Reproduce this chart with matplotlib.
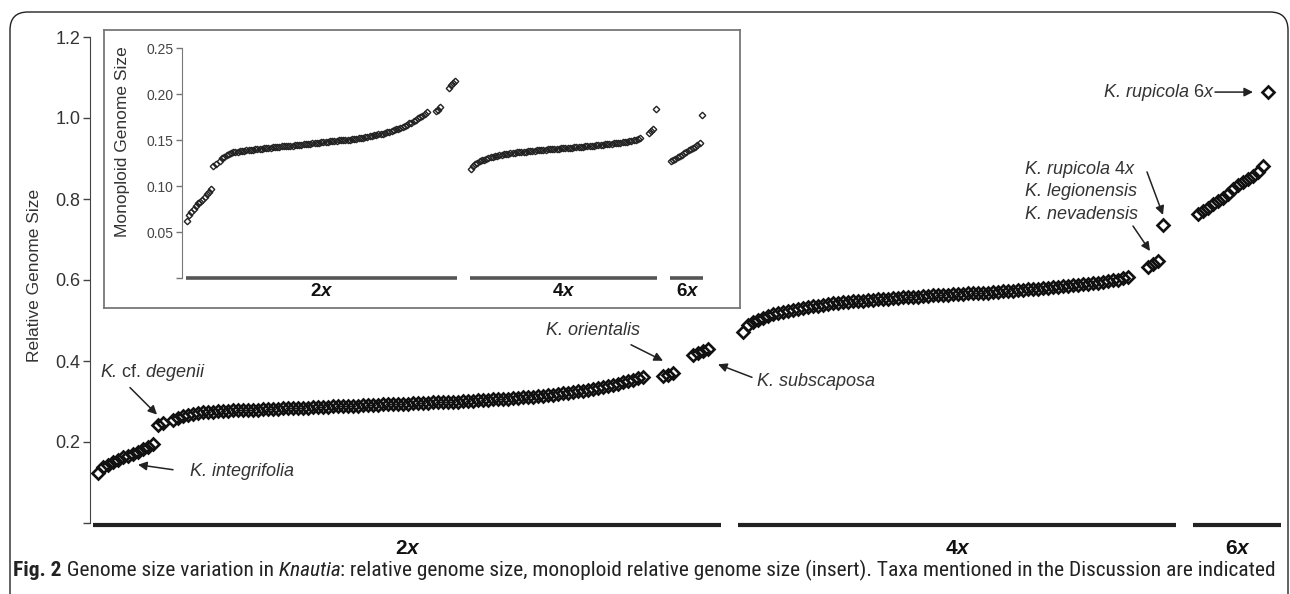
import matplotlib
matplotlib.use("Agg")
import matplotlib.pyplot as plt
from matplotlib import font_manager as fm
from matplotlib.patches import FancyBboxPatch, FancyArrowPatch
from matplotlib.transforms import IdentityTransform
import numpy as np

# relative genome size, sorted within each ploidy level (None = empty slot)
rgs_2x = [0.124, 0.138, 0.143, 0.150, 0.156, 0.162, 0.166, 0.170, 0.176, 0.182,
          0.188, 0.194, 0.243, 0.247, None,
          0.254, 0.260, 0.264, 0.267, 0.269, 0.271, 0.273, 0.274, 0.275, 0.276,
          0.277, 0.277, 0.278, 0.278, 0.279, 0.279, 0.280, 0.280, 0.281, 0.281,
          0.282, 0.282, 0.283, 0.283, 0.284, 0.284, 0.285, 0.285, 0.286, 0.286,
          0.287, 0.287, 0.288, 0.288, 0.289, 0.289, 0.290, 0.290, 0.291, 0.291,
          0.292, 0.292, 0.293, 0.293, 0.294, 0.294, 0.295, 0.295, 0.296, 0.296,
          0.297, 0.297, 0.298, 0.298, 0.299, 0.299, 0.300, 0.300, 0.301, 0.301,
          0.302, 0.303, 0.303, 0.304, 0.305, 0.305, 0.306, 0.307, 0.308, 0.309,
          0.310, 0.311, 0.312, 0.313, 0.314, 0.315, 0.317, 0.318, 0.320, 0.321,
          0.323, 0.325, 0.327, 0.329, 0.331, 0.333, 0.336, 0.338, 0.341, 0.344,
          0.347, 0.350, 0.353, 0.357, 0.360,
          None, None, None, 0.362, 0.366, 0.371,
          None, None, None, 0.414, 0.419, 0.424, 0.429]
rgs_4x = [0.472, 0.488, 0.497, 0.502, 0.507, 0.511, 0.515, 0.518, 0.521, 0.524,
          0.527, 0.529, 0.531, 0.533, 0.535, 0.537, 0.539, 0.540, 0.542, 0.543,
          0.545, 0.546, 0.547, 0.548, 0.549, 0.550, 0.551, 0.552, 0.553, 0.554,
          0.555, 0.556, 0.557, 0.558, 0.558, 0.559, 0.560, 0.561, 0.562, 0.562,
          0.563, 0.564, 0.565, 0.565, 0.566, 0.567, 0.567, 0.568, 0.569, 0.569,
          0.570, 0.571, 0.572, 0.573, 0.574, 0.575, 0.576, 0.577, 0.578, 0.579,
          0.580, 0.581, 0.582, 0.583, 0.584, 0.585, 0.587, 0.588, 0.589, 0.590,
          0.592, 0.593, 0.595, 0.597, 0.599, 0.601, 0.604, 0.607,
          None, None, None, 0.632, 0.640, 0.648, 0.736]
rgs_6x = [0.762, 0.770, 0.778, 0.787, 0.795, 0.803, 0.813, 0.825, 0.835, 0.843,
          0.850, 0.857, 0.866, 0.882, 1.064]
ploidy = [2, 4, 6]

main_ticks = [0, 0.2, 0.4, 0.6, 0.8, 1.0, 1.2]
main_tick_labels = ["", "0.2", "0.4", "0.6", "0.8", "1.0", "1.2"]
inset_ticks = [0, 0.05, 0.10, 0.15, 0.20, 0.25]
inset_tick_labels = ["", "0.05", "0.10", "0.15", "0.20", "0.25"]

caption = [("Fig. 2", {"weight": "bold"}),
           (" Genome size variation in", {}),
           (" Knautia", {"style": "italic"}),
           (": relative genome size, monoploid relative genome size (insert). "
            "Taxa mentioned in the Discussion are indicated", {})]

IT = {"style": "italic"}
# arrows: (group, index, head offset, tail offset) in pixels from the data point
arrows = [
    (0, 12, (-1, 10), (-28, 37)),
    (0, 8, (0, -13), (35, -18)),
    (0, 114, (-5, 14), (-37, 30)),
    (0, 119, (25, -9), (59, -22)),
    (2, 14, (-15, 0), (-53, 0)),
    (1, 84, (0, 10), (-16, 53)),
    (1, 81, (2, 16), (-15, 41)),
]
# labels: (group, index, text offset, align, pieces)
labels = [
    (0, 12, (-58, 52), "left", [("K.", IT), (" cf.", {}), (" degenii", IT)]),
    (0, 8, (52, -20), "left", [("K. integrifolia", IT)]),
    (0, 114, (-75, 44), "center", [("K. orientalis", IT)]),
    (0, 119, (64, -26), "left", [("K. subscaposa", IT)]),
    (2, 14, (-55, 0), "right", [("K. rupicola", IT), (" 6", {}), ("x", IT)]),
    (1, 84, (-138, 55), "left", [("K. rupicola", IT), (" 4", {}), ("x", IT)]),
    (1, 84, (-138, 33), "left", [("K. legionensis", IT)]),
    (1, 84, (-138, 10), "left", [("K. nevadensis", IT)]),
]

W, H = 1290, 594
GAP = 6
plt.rcParams["font.family"] = ["Liberation Sans", "DejaVu Sans"]

fig = plt.figure(figsize=(W / 100, H / 100), dpi=100)
renderer = fig.canvas.get_renderer()


def rect(x0, y0, x1, y1):
    # image pixel box (y from top) -> figure fraction rect
    return [x0 / W, 1 - y1 / H, (x1 - x0) / W, (y1 - y0) / H]


def find_condensed():
    # one installed narrow sans family that has regular, bold and italic faces
    prefer = ["Liberation Sans Narrow", "Noto Sans", "Open Sans", "DejaVu Sans", "Roboto"]
    faces = {}
    for f in fm.fontManager.ttflist:
        narrow = "Narrow" in f.name or "Condensed" in f.name or "condensed" in str(f.stretch)
        if not narrow or "Extra" in f.name or "extra" in str(f.stretch) or "Semi" in f.name \
                or "semi" in str(f.stretch):
            continue
        w = f.weight if isinstance(f.weight, (int, float)) else fm.weight_dict.get(f.weight, 400)
        key = (f.name, str(f.stretch))
        for want, (st, wt) in {"rg": ("normal", 400), "bd": ("normal", 700),
                               "it": ("italic", 400)}.items():
            if f.style == st and abs(w - wt) <= 50:
                faces.setdefault(key, {})[want] = f.fname
    best, rank = None, 99
    for key, d in faces.items():
        if len(d) < 3:
            continue
        base = key[0].replace(" Condensed", "").replace(" Narrow", "")
        r = next((i for i, p in enumerate(prefer) if key[0] == p or base == p), 50)
        if r < rank:
            best, rank = d, r
    return best


cond = find_condensed()


def cap_props(kw):
    if cond is None:
        return fm.FontProperties(family="Liberation Sans", **kw)
    if kw.get("weight") == "bold":
        return fm.FontProperties(fname=cond["bd"])
    if kw.get("style") == "italic":
        return fm.FontProperties(fname=cond["it"])
    return fm.FontProperties(fname=cond["rg"])


def rich(x, y, parts, size, ha="left", color="#222", props=None, fit=None):
    # draw text pieces with mixed styles side by side, display coords
    items = []
    for s, kw in parts:
        t = fig.text(0, 0, s, fontsize=size, color=color, va="center", ha="left",
                     transform=IdentityTransform(), **({} if props else kw))
        if props:
            t.set_fontproperties(props(kw))
            t.set_fontsize(size)
        items.append(t)
    if fit:
        total = sum(t.get_window_extent(renderer).width for t in items)
        for t in items:
            t.set_fontsize(size * fit / total)
    widths = [t.get_window_extent(renderer).width for t in items]
    total = sum(widths)
    x0 = x - total if ha == "right" else x - total / 2 if ha == "center" else x
    for t, w in zip(items, widths):
        t.set_position((x0, y))
        x0 += w


groups = [rgs_2x, rgs_4x, rgs_6x]
starts = []
pos = 0
for g in groups:
    starts.append(pos)
    pos += len(g) + GAP

# rounded outer frame
fig.add_artist(FancyBboxPatch((10, -30), 1278, 612, boxstyle="round,pad=0,rounding_size=18",
                              transform=IdentityTransform(), fill=False, ec="#222", lw=1.0))

# main axes
ax = fig.add_axes(rect(90, 37, 1282, 523))
ax.set_xlim(-1.6, 236.8)
ax.set_ylim(0, 1.2)
for s in ["top", "right", "bottom"]:
    ax.spines[s].set_visible(False)
ax.spines["left"].set_color("#444")
ax.set_xticks([])
ax.set_yticks(main_ticks)
ax.set_yticklabels(main_tick_labels)
ax.tick_params(axis="y", direction="out", length=5, width=1, color="#444",
               labelsize=13, labelcolor="#333", pad=2)

for g, st, p in zip(groups, starts, ploidy):
    xs = st + np.arange(len(g))
    ys = np.array(g, dtype=float)
    ax.plot(xs, ys, ls="none", marker="D", ms=6.4, mfc="none", mec="#111", mew=1.9, clip_on=False)
    ax.plot([st - 1, st + len(g) + 1.5], [-0.004, -0.004], color="#222", lw=3,
            solid_capstyle="butt", clip_on=False)
    cx = ax.transData.transform((st + (len(g) + 0.5) / 2, 0))[0]
    rich(cx, H - 548, [(str(p), {"weight": "bold"}), ("x", {"weight": "bold", "style": "italic"})],
         15, ha="center", color="#111")

fig.text(35, H - 275, "Relative Genome Size", rotation=90, fontsize=12.5, color="#333",
         ha="center", va="center", transform=IdentityTransform())

# annotations
for gi, idx, head, tail in arrows:
    tx, ty = ax.transData.transform((starts[gi] + idx, groups[gi][idx]))
    fig.add_artist(FancyArrowPatch((tx + tail[0], ty + tail[1]), (tx + head[0], ty + head[1]),
                                   transform=IdentityTransform(), arrowstyle="-|>",
                                   mutation_scale=13, lw=1.1, color="#222",
                                   shrinkA=0, shrinkB=0))
for gi, idx, toff, ha, parts in labels:
    tx, ty = ax.transData.transform((starts[gi] + idx, groups[gi][idx]))
    rich(tx + toff[0], ty + toff[1], parts, 13, ha=ha, color="#333")

# inset
frame = fig.add_axes(rect(104, 30, 740, 308))
frame.set_xticks([])
frame.set_yticks([])
for s in frame.spines.values():
    s.set_color("#777")
    s.set_linewidth(1.3)
frame.set_zorder(2)

ia = fig.add_axes(rect(182, 48, 708, 278))
ia.set_zorder(3)
ia.patch.set_alpha(0)
ia.set_xlim(-2.27, 236.8)
ia.set_ylim(0, 0.25)
for s in ["top", "right", "bottom"]:
    ia.spines[s].set_visible(False)
ia.spines["left"].set_color("#777")
ia.set_xticks([])
ia.set_yticks(inset_ticks)
ia.set_yticklabels(inset_tick_labels)
ia.tick_params(axis="y", direction="out", length=4, width=1, color="#777",
               labelsize=10, labelcolor="#444", pad=2)

for g, st, p in zip(groups, starts, ploidy):
    xs = st + np.arange(len(g))
    ys = np.array(g, dtype=float) / p
    ia.plot(xs, ys, ls="none", marker="D", ms=3.3, mfc="none", mec="#222", mew=1.0, clip_on=False)
    ia.plot([st - 0.5, st + len(g) - 0.5], [0, 0], color="#555", lw=2.6,
            solid_capstyle="butt", clip_on=False)
    cx = ia.transData.transform((st + (len(g) - 1) / 2, 0))[0]
    rich(cx, H - 292, [(str(p), {"weight": "bold"}), ("x", {"weight": "bold", "style": "italic"})],
         13.5, ha="center", color="#111")

fig.text(122, H - 142, "Monoploid Genome Size", rotation=90, fontsize=12.5, color="#333",
         ha="center", va="center", transform=IdentityTransform())

# caption, fitted to the frame width
rich(13, H - 570, caption, 14, color="#222", props=cap_props, fit=1268)

fig.savefig("out.png", dpi=100)
